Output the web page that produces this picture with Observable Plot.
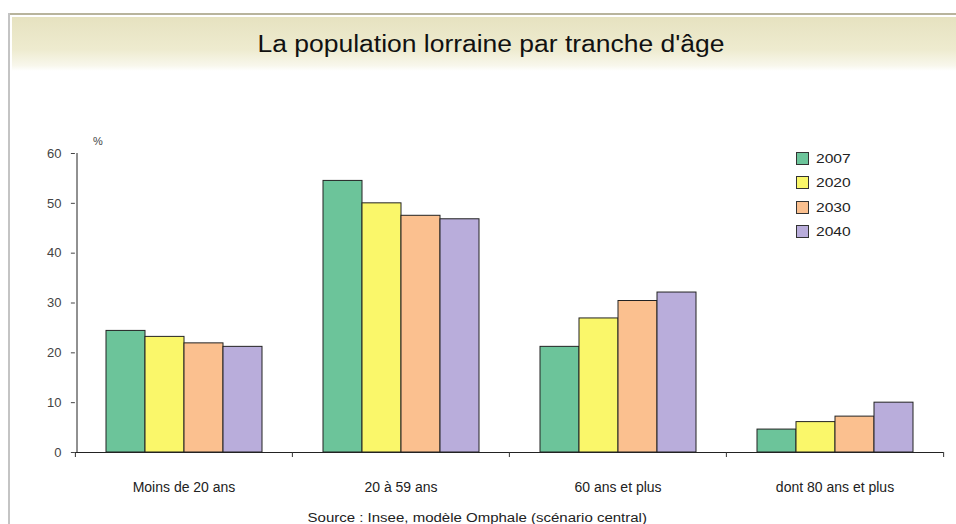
<!DOCTYPE html>
<html>
<head>
<meta charset="utf-8">
<script src="https://cdn.jsdelivr.net/npm/d3@7"></script>
<script src="https://cdn.jsdelivr.net/npm/@observablehq/plot@0.6"></script>
<style>
  html, body { margin: 0; padding: 0; background: #fff; }
  body { width: 956px; height: 524px; position: relative; overflow: hidden; font-family: "Liberation Sans", Arial, sans-serif; }
  #frameTop { position: absolute; left: 8px; top: 13px; width: 948px; height: 2px; background: #b8b49c; }
  #frameLeft { position: absolute; left: 8px; top: 13px; width: 2px; height: 511px; background: #c4c4c4; }
  #banner { position: absolute; left: 12px; top: 17px; width: 944px; height: 54px;
    background: linear-gradient(to bottom, #e6e2c0 0%, #eeebcf 60%, #f8f7ec 90%, #ffffff 100%); }
  #title { position: absolute; left: 13px; width: 956px; top: 17px; height: 54px; line-height: 54px; text-align: center;
    font-size: 23px; color: #111; transform: scaleX(1.15); transform-origin: 50% 50%; }
  #pct { position: absolute; left: 93px; top: 135px; font-size: 11px; color: #444; }
  #chart { position: absolute; left: 0; top: 80px; }
  #legend { position: absolute; left: 796px; top: 146px; font-size: 13px; color: #222; }
  #legend .row { display: flex; align-items: center; height: 24.5px; }
  #legend .sw { width: 11px; height: 11px; border: 1px solid #333; margin-right: 7px; }
  #legend span { display: inline-block; transform: scaleX(1.2); transform-origin: left center; }
  #caption { position: absolute; left: 0; width: 956px; top: 511px; text-align: center; font-size: 12px; color: #222;
    transform: scaleX(1.25); transform-origin: 481px 50%; }
</style>
</head>
<body>
<div id="frameTop"></div>
<div id="frameLeft"></div>
<div id="banner"></div>
<div id="title">La population lorraine par tranche d'âge</div>
<div id="pct">%</div>
<div id="chart"></div>
<div id="legend"></div>
<div id="caption">Source : Insee, modèle Omphale (scénario central)</div>
<script>
const categories = ["Moins de 20 ans", "20 à 59 ans", "60 ans et plus", "dont 80 ans et plus"];
const years = ["2007", "2020", "2030", "2040"];
const colors = ["#6cc49a", "#faf76a", "#fbc08f", "#b9addb"];
const values2007 = [24.4, 54.5, 21.2, 4.6];
const values2020 = [23.2, 50.0, 26.9, 6.1];
const values2030 = [21.9, 47.5, 30.4, 7.2];
const values2040 = [21.2, 46.8, 32.1, 10.0];
const yTicks = [0, 10, 20, 30, 40, 50, 60];

const series = [values2007, values2020, values2030, values2040];
const data = [];
categories.forEach((c, i) => years.forEach((y, j) => data.push({category: c, year: y, value: series[j][i]})));

const width = 956, height = 420;
const marginLeft = 74, marginRight = 13, marginTop = 73, marginBottom = 48;
const pInner = 0.268;
const step = (width - marginLeft - marginRight) / categories.length;
const outerOffset = step * pInner / 2;
const barW = step * (1 - pInner) / years.length;

const chart = Plot.plot({
  width, height, marginLeft, marginRight, marginTop, marginBottom,
  style: {fontFamily: "'Liberation Sans', Arial, sans-serif", background: "transparent"},
  fx: {domain: categories, paddingInner: pInner, paddingOuter: pInner / 2, axis: null, label: null},
  x: {domain: years, padding: 0, axis: null},
  y: {domain: [0, 60], axis: null},
  color: {domain: years, range: colors},
  marks: [
    Plot.barY(data, {fx: "category", x: "year", y: "value", fill: "year", stroke: "#222", strokeWidth: 1, inset: 0}),
    Plot.ruleY([0], {stroke: "#222", insetLeft: -outerOffset, insetRight: -outerOffset}),
    Plot.ruleX([{category: categories[0], year: years[0]}], {fx: "category", x: "year", y1: 0, y2: 60, stroke: "#222", dx: -barW / 2 - outerOffset}),
    Plot.axisY({ticks: yTicks, tickSize: 4, tickPadding: 10, fontSize: 13, color: "#444", label: null, anchor: "left", dx: -outerOffset}),
    Plot.axisFx({anchor: "bottom", tickSize: 0, tickPadding: 30, fontSize: 14, color: "#222", label: null}),
    Plot.axisFx({anchor: "bottom", tickSize: 5, text: null, label: null, dx: -step / 2, color: "#333"}),
    Plot.axisFx({anchor: "bottom", ticks: categories.slice(-1), tickSize: 5, text: null, label: null, dx: step / 2, color: "#333"})
  ]
});
document.getElementById("chart").appendChild(chart);

const legend = document.getElementById("legend");
years.forEach((y, j) => {
  const row = document.createElement("div");
  row.className = "row";
  const sw = document.createElement("div");
  sw.className = "sw";
  sw.style.background = colors[j];
  row.appendChild(sw);
  const t = document.createElement("span");
  t.textContent = y;
  row.appendChild(t);
  legend.appendChild(row);
});
</script>
</body>
</html>
